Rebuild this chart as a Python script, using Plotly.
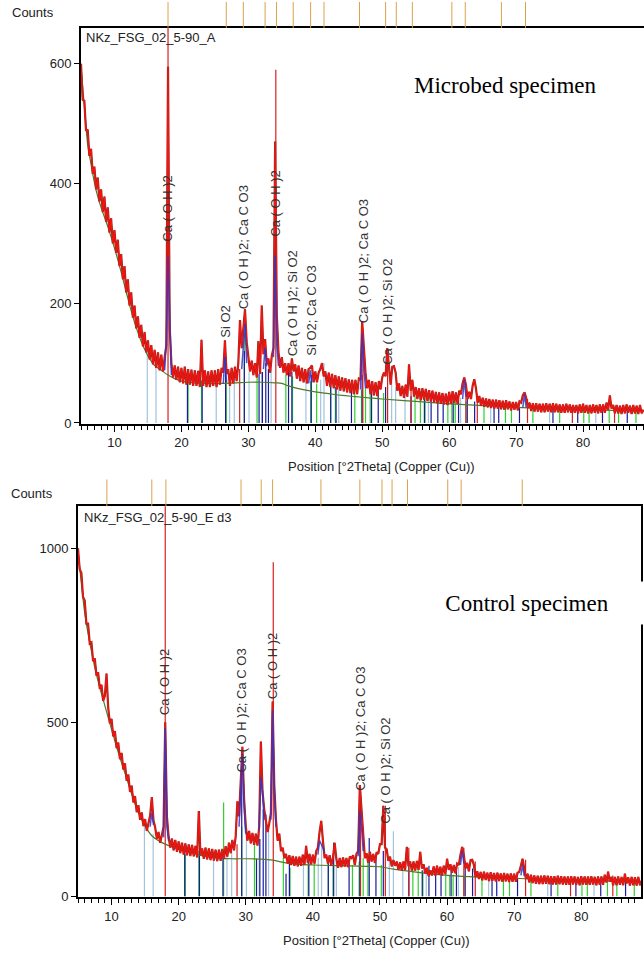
import plotly.graph_objects as go

# ---------------- data ----------------
# observed counts, 2theta grid starts at 5.00 deg, step 0.25 deg
OBS_A = [
    600, 540, 538, 488,   # 5
    490, 446, 458, 416,   # 6
    428, 390, 410, 370,   # 7
    390, 352, 378, 336,   # 8
    360, 318, 342, 300,   # 9
    322, 284, 306, 262,   # 10
    282, 240, 262, 218,   # 11
    240, 196, 218, 176,   # 12
    196, 158, 178, 142,   # 13
    164, 128, 152, 118,   # 14
    138, 106, 130, 98,    # 15
    122, 92, 118, 88,     # 16
    114, 86, 110, 130,    # 17
    595, 160, 100, 76,    # 18
    96, 72, 94, 68,       # 19
    92, 66, 94, 64,       # 20
    90, 64, 89, 62,       # 21
    88, 62, 87, 60,       # 22
    139, 62, 88, 60,      # 23
    86, 60, 88, 62,       # 24
    88, 60, 90, 64,       # 25
    92, 84, 138, 82,      # 26
    90, 62, 92, 66,       # 27
    94, 70, 100, 172,     # 28
    125, 158, 190, 135,   # 29
    112, 86, 104, 80,     # 30
    100, 76, 137, 82,     # 31
    196, 115, 140, 98,    # 32
    108, 84, 112, 125,    # 33
    470, 180, 118, 92,    # 34
    110, 84, 100, 80,     # 35
    100, 78, 108, 86,     # 36
    98, 74, 96, 70,       # 37
    92, 68, 90, 66,       # 38
    90, 92, 96, 68,       # 39
    86, 68, 84, 90,       # 40
    100, 78, 86, 62,      # 41
    84, 60, 82, 58,       # 42
    80, 56, 78, 54,       # 43
    76, 53, 75, 51,       # 44
    73, 50, 72, 48,       # 45
    72, 48, 74, 72,       # 46
    170, 120, 84, 58,     # 47
    72, 48, 70, 46,       # 48
    68, 45, 70, 56,       # 49
    76, 84, 78, 125,      # 50
    86, 64, 94, 95,       # 51
    84, 54, 66, 45,       # 52
    62, 42, 64, 44,       # 53
    98, 54, 72, 44,       # 54
    60, 40, 58, 38,       # 55
    58, 39, 57, 37,       # 56
    55, 36, 54, 34,       # 57
    52, 33, 51, 32,       # 58
    50, 31, 49, 30,       # 59
    52, 32, 53, 34,       # 60
    51, 32, 54, 48,       # 61
    66, 76, 64, 40,       # 62
    52, 40, 62, 73,       # 63
    58, 34, 45, 29,       # 64
    42, 27, 41, 26,       # 65
    40, 25, 39, 24,       # 66
    39, 24, 38, 23,       # 67
    37, 22, 38, 23,       # 68
    36, 21, 35, 22,       # 69
    35, 21, 36, 34,       # 70
    46, 51, 42, 25,       # 71
    34, 20, 33, 19,       # 72
    33, 19, 32, 18,       # 73
    32, 18, 33, 19,       # 74
    32, 18, 33, 18,       # 75
    32, 18, 31, 17,       # 76
    31, 17, 32, 18,       # 77
    31, 17, 30, 17,       # 78
    30, 16, 31, 17,       # 79
    32, 17, 30, 16,       # 80
    30, 16, 31, 17,       # 81
    30, 16, 31, 17,       # 82
    31, 17, 34, 22,       # 83
    46, 24, 30, 16,       # 84
    30, 16, 29, 15,       # 85
    30, 16, 31, 17,       # 86
    29, 15, 30, 16,       # 87
    29, 15, 30, 16,       # 88
    22,                   # 89
]

OBS_E = [
    1000, 940, 930, 860,  # 5
    850, 784, 784, 727,   # 6
    730, 676, 684, 634,   # 7
    644, 596, 608, 562,   # 8
    576, 640, 542, 497,   # 9
    510, 460, 475, 426,   # 10
    442, 394, 412, 365,   # 11
    382, 332, 350, 300,   # 12
    318, 270, 288, 242,   # 13
    262, 220, 241, 202,   # 14
    222, 188, 210, 232,   # 15
    285, 218, 198, 165,   # 16
    185, 154, 176, 200,   # 17
    500, 230, 172, 140,   # 18
    166, 132, 162, 128,   # 19
    158, 124, 154, 120,   # 20
    152, 118, 149, 116,   # 21
    148, 115, 145, 112,   # 22
    245, 118, 138, 108,   # 23
    140, 106, 138, 104,   # 24
    136, 103, 134, 101,   # 25
    134, 102, 136, 108,   # 26
    144, 114, 154, 124,   # 27
    162, 132, 172, 273,   # 28
    230, 330, 430, 280,   # 29
    202, 160, 188, 152,   # 30
    182, 148, 180, 146,   # 31
    200, 445, 300, 250,   # 32
    220, 185, 210, 240,   # 33
    560, 320, 220, 160,   # 34
    180, 130, 140, 110,   # 35
    122, 94, 118, 90,     # 36
    116, 88, 114, 86,     # 37
    114, 88, 120, 90,     # 38
    145, 96, 122, 92,     # 39
    120, 94, 130, 140,    # 40
    185, 217, 160, 110,   # 41
    120, 94, 118, 88,     # 42
    112, 154, 108, 82,    # 43
    110, 84, 112, 86,     # 44
    110, 84, 114, 110,    # 45
    118, 90, 122, 130,    # 46
    320, 245, 160, 110,   # 47
    124, 96, 128, 100,    # 48
    122, 96, 127, 122,    # 49
    150, 150, 260, 140,   # 50
    135, 102, 114, 86,    # 51
    104, 88, 100, 76,     # 52
    98, 74, 100, 76,      # 53
    142, 86, 100, 74,     # 54
    100, 74, 102, 76,     # 55
    128, 80, 92, 66,      # 56
    82, 58, 75, 60,       # 57
    86, 60, 88, 62,       # 58
    85, 60, 88, 64,       # 59
    108, 76, 92, 68,      # 60
    90, 66, 94, 90,       # 61
    120, 142, 118, 80,    # 62
    96, 72, 104, 105,     # 63
    90, 55, 72, 50,       # 64
    70, 46, 71, 47,       # 65
    68, 44, 69, 45,       # 66
    67, 43, 68, 44,       # 67
    66, 42, 67, 43,       # 68
    65, 41, 66, 42,       # 69
    65, 42, 68, 70,       # 70
    88, 108, 80, 50,      # 71
    65, 40, 62, 38,       # 72
    60, 36, 59, 35,       # 73
    59, 35, 60, 36,       # 74
    59, 35, 58, 34,       # 75
    58, 34, 59, 35,       # 76
    58, 34, 57, 33,       # 77
    57, 33, 58, 34,       # 78
    57, 33, 56, 32,       # 79
    58, 34, 57, 33,       # 80
    57, 33, 58, 34,       # 81
    56, 32, 57, 33,       # 82
    57, 33, 62, 40,       # 83
    71, 42, 56, 32,       # 84
    56, 32, 57, 33,       # 85
    56, 32, 65, 37,       # 86
    55, 31, 56, 32,       # 87
    55, 31, 56, 32,       # 88
    44,                   # 89
]

# calculated profile around the fitted peaks (None = gap)
CALC_A_X = [17.5, 17.75, 18.0, 18.25, 18.5, None, 26.25, 26.5, 26.75, None,
            29.0, 29.25, 29.5, 29.75, None, 32.25, 32.5, 32.75, None,
            33.75, 34.0, 34.25, 34.5, None, 39.0, 39.25, 39.5, None,
            46.75, 47.0, 47.25, 47.5, None, 62.0, 62.25, 62.5, None, 71.0, 71.25, 71.5]
CALC_A_Y = [88, 140, 278, 160, 80, None, 66, 110, 68, None,
            90, 130, 165, 100, None, 90, 125, 95, None,
            110, 280, 130, 95, None, 66, 88, 68, None,
            56, 150, 90, 58, None, 40, 72, 44, None, 26, 48, 26]
CALC_E_X = [15.75, 16.0, 16.25, None, 17.75, 18.0, 18.25, 18.5, None,
            29.0, 29.25, 29.5, 29.75, 30.0, None, 32.0, 32.25, 32.5, 32.75, None,
            33.75, 34.0, 34.25, 34.5, None, 40.75, 41.0, 41.25, 41.5, 41.75, None,
            46.75, 47.0, 47.25, 47.5, None, 62.0, 62.25, 62.5, None, 71.0, 71.25, 71.5]
CALC_E_Y = [200, 240, 205, None, 170, 484, 200, 160, None,
            200, 300, 410, 260, 180, None, 190, 342, 300, 220, None,
            220, 535, 300, 200, None, 120, 160, 150, 140, 125, None,
            115, 245, 200, 130, None, 90, 130, 95, None, 60, 90, 58]

# background curves
BG_A_X = [5, 5.5, 6, 6.5, 7, 7.5, 8, 9, 10, 11, 12, 13, 14, 15, 16, 17, 18, 19, 20, 22, 24, 26, 28, 30,
          32, 34, 35, 36, 38, 40, 42, 44, 46, 48, 50, 55, 60, 65, 70, 75, 80, 85, 89.1]
BG_A_Y = [595, 530, 465, 432, 402, 378, 360, 328, 292, 252, 208, 168, 136, 112, 96, 88, 80, 74, 70, 67, 66, 66, 67, 68,
          68, 67, 66, 62, 56, 52, 49, 46, 44, 42, 40, 36, 32, 29, 26, 24, 22, 21, 20]
BG_E_X = [5, 5.5, 6, 6.5, 7, 7.5, 8, 9, 10, 11, 12, 13, 14, 15, 16, 17, 18, 19, 20, 22, 24, 26, 28, 30,
          32, 34, 36, 38, 40, 44, 48, 50, 52, 56, 60, 64, 70, 75, 80, 85, 88.9]
BG_E_Y = [990, 900, 815, 755, 705, 658, 618, 548, 480, 414, 354, 294, 240, 202, 174, 160, 150, 142, 135, 125, 115, 110, 108, 108,
          107, 104, 96, 92, 90, 88, 86, 85, 78, 68, 60, 56, 52, 48, 46, 44, 43]

# reference stick patterns (position, height in panel A, height in panel E)
LB_POS = [14.9, 16.2, 25.2, 27.2, 27.9, 30.1, 32.0, 33.4, 38.6, 40.8, 41.3, 43.5, 51.4, 52.0, 53.4, 56.9, 61.7, 66.2, 75.0, 81.9]
LB_A = [120, 100, 70, 72, 75, 85, 85, 90, 75, 72, 100, 62, 90, 60, 55, 45, 42, 32, 24, 22]
LB_E = [208, 180, 105, 130, 130, 170, 180, 200, 100, 110, 150, 100, 110, 187, 90, 80, 85, 60, 48, 46]

GR_POS = [21.0, 23.0, 26.7, 29.4, 31.3, 35.6, 36.6, 39.3, 40.2, 42.3, 43.0, 45.9, 46.9, 47.5, 48.2, 50.2, 54.9,
          55.7, 56.4, 59.8, 60.4, 60.9, 62.5, 65.2, 68.4, 69.3, 72.5, 76.5, 80.1, 80.9, 83.9, 85.3, 87.9]
GR_A = [75, 70, 72, 150, 80, 80, 78, 70, 66, 62, 60, 56, 55, 60, 52, 50, 44,
        42, 42, 40, 38, 38, 36, 32, 30, 28, 26, 24, 22, 22, 21, 20, 19]
GR_E = [121, 130, 270, 200, 160, 110, 82, 100, 95, 95, 90, 90, 100, 110, 100, 90, 80,
        78, 72, 65, 62, 62, 60, 56, 53, 52, 50, 47, 46, 46, 45, 44, 43]

NV_POS = [20.9, 23.1, 26.6, 29.4, 31.6, 32.1, 32.6, 33.0, 36.0, 36.5, 39.4, 42.3, 43.1, 45.4, 47.0, 48.4, 49.4,
          50.5, 54.3, 56.3, 57.3, 58.3, 59.1, 60.6, 61.4, 62.7, 63.8, 66.7, 67.4, 70.5, 75.5, 79.2, 82.9, 86.6]
NV_A = [72, 72, 110, 120, 82, 85, 100, 90, 85, 85, 80, 62, 60, 55, 80, 52, 55,
        60, 45, 42, 40, 39, 38, 38, 38, 40, 36, 30, 30, 27, 23, 21, 20, 19]
NV_E = [130, 245, 130, 400, 108, 165, 250, 235, 65, 100, 110, 100, 154, 95, 240, 168, 110,
        130, 85, 75, 88, 75, 72, 80, 75, 90, 80, 55, 55, 52, 47, 45, 44, 42]

RD_POS = [18.0, 28.7, 34.1, 47.1, 50.8, 54.3, 62.5, 64.2, 71.7, 78.4, 84.7]
RD_A = [700, 90, 590, 120, 120, 60, 55, 40, 40, 22, 25]
RD_E = [1300, 150, 960, 300, 260, 140, 140, 100, 105, 46, 60]

# reference peak markers above each panel
MARK_A = [18.0, 26.7, 29.25, 32.5, 34.2, 36.7, 39.3, 41.3, 46.6, 50.5, 52.1, 54.5, 60.4, 62.4, 67.8, 71.4]
MARK_E = [9.3, 16.0, 18.1, 29.3, 32.3, 34.0, 41.2, 47.0, 50.3, 51.8, 54.1, 60.1, 62.1, 71.2]

# phase labels: (text, 2theta, centre height in counts)
LABELS_A = [("Ca ( O H )2", 18.0, 358), ("Si O2", 26.6, 170), ("Ca ( O H )2; Ca C O3", 29.4, 294),
            ("Ca ( O H )2", 34.1, 366), ("Ca ( O H )2; Si O2", 36.6, 199), ("Si O2; Ca C O3", 39.4, 188),
            ("Ca ( O H )2; Ca C O3", 47.1, 270), ("Ca ( O H )2; Si O2", 50.8, 185)]
LABELS_E = [("Ca ( O H )2", 18.0, 616), ("Ca ( O H )2; Ca C O3", 29.4, 533), ("Ca ( O H )2", 34.1, 662),
            ("Ca ( O H )2; Ca C O3", 47.1, 480), ("Ca ( O H )2; Si O2", 50.8, 362)]

# ---------------- figure ----------------
W, H = 644, 956
NARROW = "Liberation Sans Narrow, Arial Narrow, Liberation Sans, Arial, sans-serif"
SANS = "Liberation Sans, Arial, sans-serif"
SERIF = "Liberation Serif, Times New Roman, serif"

fig = go.Figure()


def sticks(pos, hts):
    xs, ys = [], []
    for p, h in zip(pos, hts):
        xs += [p, p, None]
        ys += [0, h, None]
    return xs, ys


def add_panel(obs, calc_x, calc_y, bg_x, bg_y, hts, xa, ya):
    for pos, h, col in [(LB_POS, hts[0], "#a3c3dc"), (GR_POS, hts[1], "#2fcf2f"),
                        (NV_POS, hts[2], "#1a1a9c"), (RD_POS, hts[3], "#d42020")]:
        xs, ys = sticks(pos, h)
        fig.add_trace(go.Scatter(x=xs, y=ys, mode="lines", line=dict(color=col, width=1.2),
                                 xaxis=xa, yaxis=ya, hoverinfo="skip", showlegend=False))
    fig.add_trace(go.Scatter(x=bg_x, y=bg_y, mode="lines", line=dict(color="#4f7a2a", width=1.2),
                             line_shape="spline", xaxis=xa, yaxis=ya, showlegend=False))
    tt = [5 + 0.25 * i for i in range(len(obs))]
    fig.add_trace(go.Scatter(x=tt, y=obs, mode="lines", line=dict(color="#9a2a1c", width=2.2),
                             xaxis=xa, yaxis=ya, showlegend=False))
    fig.add_trace(go.Scatter(x=tt, y=obs, mode="lines", line=dict(color="#ff1010", width=1.1),
                             xaxis=xa, yaxis=ya, showlegend=False))
    fig.add_trace(go.Scatter(x=calc_x, y=calc_y, mode="lines", line=dict(color="#3434c8", width=1.5),
                             opacity=0.85, connectgaps=False, xaxis=xa, yaxis=ya, showlegend=False))


add_panel(OBS_A, CALC_A_X, CALC_A_Y, BG_A_X, BG_A_Y, (LB_A, GR_A, NV_A, RD_A), "x", "y")
add_panel(OBS_E, CALC_E_X, CALC_E_Y, BG_E_X, BG_E_Y, (LB_E, GR_E, NV_E, RD_E), "x2", "y2")

tickfont = dict(family=NARROW, size=13, color="#222")
xcommon = dict(showline=True, linecolor="black", linewidth=2, mirror=True, ticks="outside", ticklen=6,
               tickwidth=1, tickcolor="black", dtick=10, tick0=0, showgrid=False, zeroline=False,
               minor=dict(dtick=1, ticks="outside", ticklen=4, tickwidth=1, tickcolor="black", showgrid=False),
               tickfont=tickfont, fixedrange=True)
ycommon = dict(showline=True, linecolor="black", linewidth=2, ticks="outside", ticklen=5, tickwidth=1,
               tickcolor="black", showgrid=False, zeroline=False, tickfont=tickfont, fixedrange=True)

top_dom = [1 - 427 / H, 1 - 28 / H]
bot_dom = [1 - 904 / H, 1 - 510 / H]

fig.update_layout(
    width=W, height=H, margin=dict(l=0, r=0, t=0, b=0), autosize=False,
    paper_bgcolor="white", plot_bgcolor="white", showlegend=False,
    xaxis=dict(xcommon, domain=[81 / W, 1.0], range=[5, 89.1], anchor="y"),
    yaxis=dict(ycommon, domain=top_dom, range=[-1.5, 660], dtick=200, mirror=False, anchor="x"),
    xaxis2=dict(xcommon, domain=[78 / W, 641 / W], range=[5, 88.9], anchor="y2"),
    yaxis2=dict(ycommon, domain=bot_dom, range=[-3, 1121], dtick=500, mirror=True, anchor="x2"),
)

shapes = []
for m in MARK_A:
    shapes.append(dict(type="line", xref="x", yref="paper", x0=m, x1=m, y0=1 - 28 / H, y1=1 - 2 / H,
                       line=dict(color="#dba24c", width=1)))
for m in MARK_E:
    shapes.append(dict(type="line", xref="x2", yref="paper", x0=m, x1=m, y0=1 - 510 / H, y1=1 - 483 / H,
                       line=dict(color="#dba24c", width=1)))
fig.update_layout(shapes=shapes)

ann = []
for txt, x, y in LABELS_A:
    ann.append(dict(text=txt, x=x, y=y, xref="x", yref="y", textangle=-90, showarrow=False,
                    xanchor="center", yanchor="middle", font=dict(family=SANS, size=13, color="#333")))
for txt, x, y in LABELS_E:
    ann.append(dict(text=txt, x=x, y=y, xref="x2", yref="y2", textangle=-90, showarrow=False,
                    xanchor="center", yanchor="middle", font=dict(family=SANS, size=13, color="#333")))


def pann(text, x, y, font, xanchor="left", **kw):
    d = dict(text=text, x=x / W, y=1 - y / H, xref="paper", yref="paper", showarrow=False,
             xanchor=xanchor, yanchor="middle", font=font)
    d.update(kw)
    return d


lab_font = dict(family=NARROW, size=13, color="#222")
ann += [
    pann("Counts", 10, 13, lab_font),
    pann("Counts", 9, 497, lab_font),
    pann("NKz_FSG_02_5-90_A", 84, 38, lab_font),
    pann("NKz_FSG_02_5-90_E d3", 82, 521, lab_font),
    pann("Position [°2Theta] (Copper (Cu))", 382, 470, lab_font, xanchor="center"),
    pann("Position [°2Theta] (Copper (Cu))", 376, 947, lab_font, xanchor="center"),
    pann("Microbed specimen", 505, 86, dict(family=SERIF, size=23, color="black"), xanchor="center"),
    pann("Control specimen", 527, 607, dict(family=SERIF, size=23, color="black"), xanchor="center",
         bgcolor="white", width=240, height=40),
]
fig.update_layout(annotations=ann)

fig.write_html("out.html")
